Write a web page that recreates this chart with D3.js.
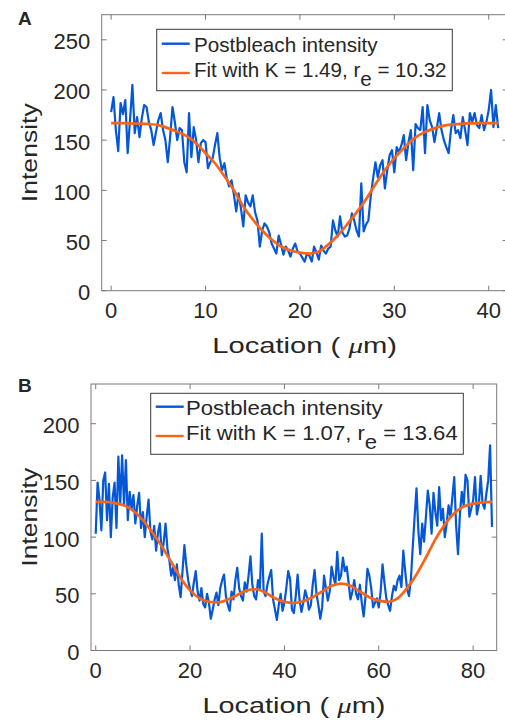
<!DOCTYPE html>
<html>
<head>
<meta charset="utf-8">
<script src="https://cdn.jsdelivr.net/npm/d3@7"></script>
<style>
  body { margin: 0; background: #fff; }
  svg text { font-family: "Liberation Sans", Arial, Helvetica, sans-serif; fill: #262626; }
</style>
</head>
<body>
<div id="chart"></div>
<script>
// ---- panel A data (location step 0.25 um) ----
const stepA = 0.25;
const intensityA = [
  178, 193, 160, 139, 187, 176, 190, 137, 170, 205, 157, 173, 153, 172, 185, 183,
  168, 160, 145, 158, 170, 177, 160, 150, 128, 153, 183, 168, 150, 162, 160, 128,
  118, 177, 133, 163, 150, 128, 147, 150, 148, 122, 128, 132, 145, 157, 132, 120,
  127, 112, 104, 110, 96, 79, 97, 82, 64, 95, 88, 84, 95, 78, 70, 44,
  60, 67, 64, 58, 47, 42, 37, 55, 46, 36, 44, 40, 34, 42, 47, 39,
  37, 33, 29, 37, 35, 29, 44, 38, 31, 45, 40, 37, 42, 44, 70, 60,
  54, 74, 58, 54, 55, 62, 77, 70, 60, 54, 107, 59, 66, 70, 94, 112,
  128, 113, 125, 130, 102, 120, 135, 140, 118, 143, 138, 145, 155, 130, 148, 160,
  120, 166, 162, 160, 183, 137, 185, 170, 163, 148, 162, 177, 160, 150, 143, 137,
  160, 175, 157, 160, 152, 173, 160, 145, 177, 168, 177, 165, 162, 175, 160, 168,
  180, 200, 163, 185, 162
];
const fitLocA = d3.range(0, 42);
const fitA = [
  167, 167, 166.8, 166.5, 166, 165, 162, 158.5, 154, 147, 137, 127, 114, 100, 84, 71,
  60, 51, 44, 40, 38, 37, 39, 46, 55, 66, 78, 91, 106, 120, 132, 142,
  151, 157, 161, 164, 165.5, 166.3, 166.7, 167, 167, 167
];
const xTicksA = [0, 10, 20, 30, 40];
const yTicksA = [0, 50, 100, 150, 200, 250];

// ---- panel B data (location step 0.4 um) ----
const stepB = 0.4;
const intensityB = [
  103, 148, 133, 106, 150, 157, 115, 147, 100, 135, 148, 108, 171, 130, 172, 128,
  168, 115, 140, 125, 137, 112, 128, 139, 108, 122, 100, 118, 133, 105, 98, 110,
  88, 104, 112, 84, 95, 112, 90, 80, 66, 73, 62, 76, 58, 47, 70, 93,
  75, 62, 54, 48, 60, 70, 52, 44, 55, 41, 38, 50, 42, 28, 36, 45,
  51, 40, 55, 62, 67, 48, 40, 35, 52, 45, 62, 73, 55, 48, 44, 60,
  52, 66, 83, 58, 48, 45, 62, 55, 103, 52, 48, 58, 65, 71, 45, 36,
  27, 40, 50, 35, 42, 55, 70, 63, 36, 33, 48, 67, 45, 34, 42, 53,
  47, 36, 40, 58, 71, 50, 40, 28, 38, 66, 55, 44, 52, 74, 65, 58,
  87, 62, 66, 82, 70, 74, 60, 45, 52, 62, 50, 45, 58, 42, 30, 48,
  72, 66, 55, 38, 42, 46, 38, 52, 76, 60, 46, 40, 35, 48, 57, 53,
  62, 66, 56, 88, 70, 54, 48, 62, 91, 118, 143, 105, 85, 112, 96, 118,
  141, 128, 103, 139, 122, 110, 144, 115, 125, 100, 112, 128, 118, 135, 153, 110,
  85, 120, 140, 128, 155, 150, 118, 125, 132, 153, 120, 128, 154, 130, 125, 138,
  150, 181, 109
];
const fitLocB = d3.range(0, 85, 2);
const fitB = [
  131, 131, 130, 128, 123, 115, 104, 92, 78, 64, 53, 46, 43, 42.5, 45, 49,
  53, 54, 51, 46, 43, 42, 43.5, 47, 52, 57, 59, 57, 52, 47, 44, 43,
  46, 55, 67, 82, 98, 111, 121, 127, 129.5, 130.5, 131
];
const xTicksB = [0, 20, 40, 60, 80];
const yTicksB = [0, 50, 100, 150, 200];

const blue = "#0457d8";
const orange = "#fa6414";
const axisGray = "#7a7a7a";

const svg = d3.select("#chart").append("svg")
  .attr("width", 505)
  .attr("height", 720);

// place text at (x,y) and stretch it horizontally to the given width
function fitText(t, x, y, w, rot) {
  const bb = t.node().getBBox();
  const s = w / bb.width;
  t.attr("transform", `translate(${x},${y})${rot ? " rotate(" + rot + ")" : ""} scale(${s},1)`);
}

function drawPanel(p) {
  const x = d3.scaleLinear().domain(p.xDomain).range([p.left, p.right]);
  const y = d3.scaleLinear().domain(p.yDomain).range([p.bottom, p.top]);
  const g = svg.append("g");

  // box
  g.append("rect")
    .attr("x", p.left).attr("y", p.top)
    .attr("width", p.right - p.left).attr("height", p.bottom - p.top)
    .attr("fill", "none").attr("stroke", axisGray).attr("stroke-width", 1);

  // ticks inward on all four sides
  const tl = 5;
  p.xTicks.forEach(v => {
    g.append("line").attr("x1", x(v)).attr("x2", x(v)).attr("y1", p.bottom).attr("y2", p.bottom - tl).attr("stroke", axisGray);
    g.append("line").attr("x1", x(v)).attr("x2", x(v)).attr("y1", p.top).attr("y2", p.top + tl).attr("stroke", axisGray);
    g.append("text").attr("x", x(v)).attr("y", p.bottom + 27)
      .attr("text-anchor", "middle").attr("font-size", 22).text(v);
  });
  p.yTicks.forEach(v => {
    g.append("line").attr("x1", p.left).attr("x2", p.left + tl).attr("y1", y(v)).attr("y2", y(v)).attr("stroke", axisGray);
    g.append("line").attr("x1", p.right).attr("x2", p.right - tl).attr("y1", y(v)).attr("y2", y(v)).attr("stroke", axisGray);
    g.append("text").attr("x", p.left - 11.5).attr("y", y(v) + 9.5)
      .attr("text-anchor", "end").attr("font-size", 22).text(v);
  });

  // data
  const raw = p.intensity.map((v, i) => [i * p.step, v]);
  g.append("path")
    .attr("d", d3.line().x(d => x(d[0])).y(d => y(d[1]))(raw))
    .attr("fill", "none").attr("stroke", blue).attr("stroke-width", 2.2)
    .attr("stroke-linejoin", "round");

  const fit = p.fitLoc.map((v, i) => [v, p.fit[i]]);
  g.append("path")
    .attr("d", d3.line().curve(d3.curveMonotoneX).x(d => x(d[0])).y(d => y(d[1]))(fit))
    .attr("fill", "none").attr("stroke", orange).attr("stroke-width", 2.7);

  // legend
  const L = p.legend;
  g.append("rect").attr("x", L.x).attr("y", L.y).attr("width", L.w).attr("height", L.h)
    .attr("fill", "#fff").attr("stroke", "#3a3a3a").attr("stroke-width", 1);
  g.append("line").attr("x1", L.x + 5).attr("x2", L.x + 33).attr("y1", L.line1).attr("y2", L.line1)
    .attr("stroke", blue).attr("stroke-width", 2.4);
  g.append("line").attr("x1", L.x + 5).attr("x2", L.x + 33).attr("y1", L.line2).attr("y2", L.line2)
    .attr("stroke", orange).attr("stroke-width", 2.4);
  const t1 = g.append("text").attr("font-size", 19.5).text("Postbleach intensity");
  fitText(t1, L.tx, L.base1, L.w1);
  const t2 = g.append("text").attr("font-size", 19.5);
  t2.append("tspan").text(`Fit with K = ${p.K}, r`);
  t2.append("tspan").attr("dy", 9).text("e");
  t2.append("tspan").attr("dy", -9).text(` = ${p.re}`);
  fitText(t2, L.tx, L.base2, L.w2);

  // axis labels
  const xl = g.append("text").attr("font-size", 22).attr("text-anchor", "middle");
  xl.append("tspan").text("Location ( ");
  xl.append("tspan").attr("font-family", "'Liberation Serif', serif").attr("font-style", "italic").text("\u03bc");
  xl.append("tspan").text("m)");
  fitText(xl, (p.left + p.right) / 2, p.bottom + 62, p.xLabelW);

  const yl = g.append("text").attr("font-size", 22).attr("text-anchor", "middle").text("Intensity");
  fitText(yl, 36.5, (p.top + p.bottom) / 2, 99, -90);

  g.append("text").attr("x", 18).attr("y", p.letterY)
    .attr("font-size", 19).attr("font-weight", "bold").attr("fill", "#000").text(p.letter);
}

drawPanel({
  letter: "A", letterY: 25,
  left: 101.7, right: 507.6, top: 14.7, bottom: 290.7,
  xDomain: [-1, 42], yDomain: [0, 275],
  xTicks: xTicksA, yTicks: yTicksA,
  step: stepA, intensity: intensityA, fitLoc: fitLocA, fit: fitA,
  K: "1.49", re: "10.32", xLabelW: 185,
  legend: { x: 156.7, y: 29.3, w: 295.6, h: 61.4, line1: 43.7, line2: 73,
            tx: 194, base1: 51.7, base2: 76.7, w1: 184, w2: 252.7 }
});

drawPanel({
  letter: "B", letterY: 392,
  left: 91, right: 496.7, top: 384, bottom: 650.5,
  xDomain: [-1, 85], yDomain: [0, 235],
  xTicks: xTicksB, yTicks: yTicksB,
  step: stepB, intensity: intensityB, fitLoc: fitLocB, fit: fitB,
  K: "1.07", re: "13.64", xLabelW: 183,
  legend: { x: 150.7, y: 393.3, w: 312.6, h: 61, line1: 406.7, line2: 436,
            tx: 186, base1: 415, base2: 440, w1: 197, w2: 272 }
});
</script>
</body>
</html>
